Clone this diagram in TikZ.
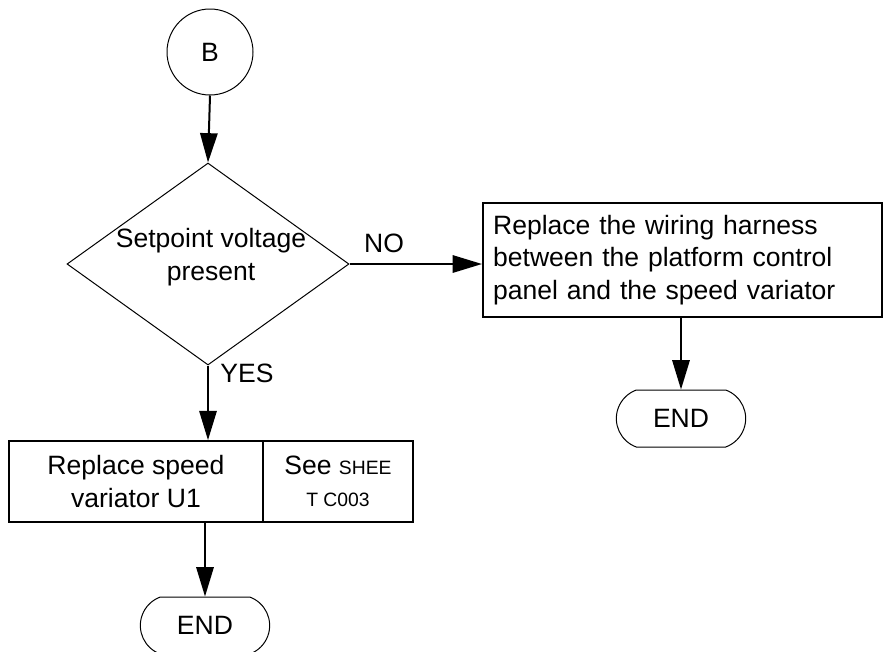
\documentclass[tikz,border=0pt]{standalone}
\usepackage{fontspec}
\setmainfont{Liberation Sans}
\usetikzlibrary{shapes.geometric,shapes.misc,arrows.meta}

\tikzset{every picture/.style={line width=0.75pt}}
\tikzset{
  stepbox/.style={draw, rectangle, line width=1.5pt, inner sep=0pt},
  termbox/.style={draw, rounded rectangle, rounded rectangle arc length=140, minimum width=97pt, minimum height=42.75pt, inner sep=0pt},
  flowline/.style={-{Triangle[length=22pt,width=13pt]}, line width=1.5pt},
}
\newcommand{\sheetsize}{\fontsize{14.5pt}{24.4pt}\selectfont}

\begin{document}
\begin{tikzpicture}[x=0.75pt,y=0.75pt,yscale=-1,xscale=1, font=\fontsize{19.9pt}{24.4pt}\selectfont]
		\useasboundingbox (0,0) rectangle (887,651);
		
		%Shape: Circle
		\node [draw, circle, minimum size=64.5pt, inner sep=0pt] (b) at (210,52) {B};
		%Shape: Diamond
		\node [draw, diamond, minimum width=211.5pt, minimum height=151.5pt, inner sep=0pt] (q) at (208,264) {};
		% Text Node
		\node [inner sep=0.75pt, align=center] (qtxt) at (211,257) {Setpoint voltage\\present};
		
		%Shape: Rectangle
		\node [stepbox, minimum width=299.25pt, minimum height=85.5pt, text width=284pt, align=left] (harness) at (682.5,260) {Replace the wiring harness\\between the platform control\\panel and the speed variator};
		%Shape: Rectangle
		\node [stepbox, line width=1.25pt, minimum width=190.5pt, minimum height=60.75pt, align=center] (repl) at (136,481.5) {Replace speed\\variator U1};
		%Shape: Rectangle
		\node [stepbox, line width=1.25pt, minimum width=112.5pt, minimum height=60.75pt, align=center] (see) at (338,481.5) {See {\sheetsize SHEE}\\{\sheetsize T C003}};
		
		%Shape: Terminal
		\node [termbox] (endr) at (681,418.5) {END};
		%Shape: Terminal
		\node [termbox] (endl) at (205,625.5) {END};
		
		% Text Node
		\node [inner sep=0.75pt] (nolbl) at (384,243) {NO};
		% Text Node
		\node [inner sep=0.75pt] (yeslbl) at (247,373) {YES};
		
		%Straight Lines
		\draw [flowline] (b.south) -- (q.north);
		\draw [flowline] (q.east) -- (q.east -| harness.west);
		\draw [flowline] (q.south) -- (q.south |- repl.north);
		\draw [flowline] (endr |- harness.south) -- (endr.north);
		\draw [flowline] (endl |- repl.south) -- (endl.north);
		
\end{tikzpicture}
\end{document}
